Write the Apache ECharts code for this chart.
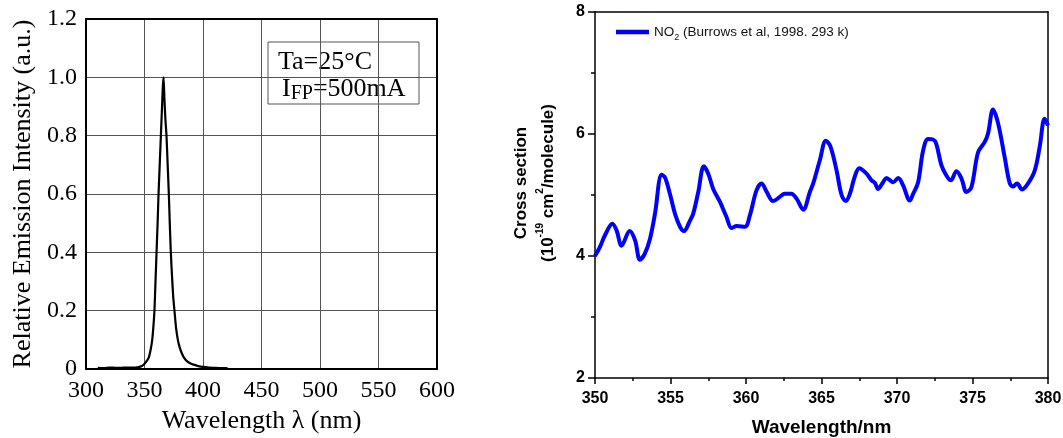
<!DOCTYPE html>
<html>
<head>
<meta charset="utf-8">
<script src="https://cdn.jsdelivr.net/npm/echarts@6/dist/echarts.min.js"></script>
<style>
html,body{margin:0;padding:0;background:#fff;}
#chart{width:1063px;height:438px;}
</style>
</head>
<body>
<div id="chart"></div>
<script>
// ---- Left panel: LED emission spectrum ----
const ledWavelength = [310,315,320,325,330,335,340,344,347,349.4,351.5,353.7,355.2,356.6,357.6,358.5,359.4,360.3,361.2,362,363,364,365,365.7,366.3,367,367.8,368.8,369.8,370.8,371.6,372.5,373.5,374.5,375.6,377,378.5,380,381.8,383.6,386,389,392,396,400,405,410,415,421];
const ledIntensity = [0.004,0.003,0.005,0.004,0.004,0.005,0.005,0.006,0.009,0.015,0.025,0.04,0.065,0.1,0.145,0.2,0.3,0.4,0.5,0.6,0.7,0.8,0.9,0.97,1.0,0.93,0.86,0.8,0.7,0.6,0.5,0.4,0.32,0.25,0.2,0.14,0.1,0.075,0.055,0.04,0.028,0.02,0.015,0.01,0.007,0.005,0.004,0.003,0.003];
const ledXTicks = [300,350,400,450,500,550,600];
const ledYTicks = ['0','0.2','0.4','0.6','0.8','1.0','1.2'];

// ---- Right panel: NO2 cross section ----
const no2Wavelength = [350,350.33,350.66,351.15,351.43,351.76,352.3,352.65,352.98,353.3,353.64,353.97,354.41,354.63,354.96,355.3,355.63,355.89,356.29,356.5,356.84,357.21,357.5,357.83,358.27,358.71,359.04,359.38,359.93,360.26,360.7,361.03,361.37,361.8,362.24,362.57,363.0,363.35,363.79,364.23,364.45,364.89,365.29,365.6,366.0,366.33,366.61,366.88,367.2,367.5,367.98,368.31,368.53,368.75,369.08,369.3,369.75,370.08,370.4,370.85,371.07,371.4,371.73,372.06,372.39,372.6,372.94,373.27,373.56,373.94,374.27,374.6,374.93,375.37,375.81,376.03,376.36,376.7,377.13,377.47,377.69,377.95,378.28,378.68,379.12,379.45,379.78,380.0];
const no2CrossSection = [4.0,4.15,4.34,4.53,4.42,4.17,4.41,4.26,3.94,4.04,4.28,4.69,5.33,5.29,5.02,4.69,4.48,4.41,4.58,4.69,5.05,5.47,5.35,5.10,4.89,4.64,4.46,4.49,4.48,4.67,5.08,5.19,5.05,4.90,4.97,5.02,5.02,4.94,4.76,5.05,5.19,5.57,5.89,5.79,5.40,5.0,4.90,5.02,5.30,5.44,5.35,5.24,5.20,5.10,5.21,5.28,5.21,5.28,5.16,4.91,5.02,5.21,5.73,5.92,5.91,5.84,5.49,5.32,5.24,5.39,5.27,5.05,5.13,5.70,5.87,6.01,6.40,6.17,5.62,5.19,5.14,5.19,5.09,5.19,5.40,5.79,6.25,6.14];
const no2XTicks = [350,355,360,365,370,375,380];
const no2YTicks = [2,4,6,8];

const serif = 'Liberation Serif';
const sans = 'Liberation Sans';

const chart = echarts.init(document.getElementById('chart'), null, {renderer: 'canvas'});

const frameAxis = (grid, pos, w) => ({
  gridIndex: grid, position: pos, type: 'value',
  axisLine: {show: true, onZero: false, lineStyle: {color: '#000', width: w}},
  axisTick: {show: false}, axisLabel: {show: false}, splitLine: {show: false}
});

const option = {
  animation: false,
  backgroundColor: '#fff',
  grid: [
    {left: 86, right: 626, top: 19, bottom: 69, outerBoundsMode: 'none', containLabel: false},
    {left: 595, right: 15, top: 12, bottom: 60, outerBoundsMode: 'none', containLabel: false}
  ],
  legend: {
    data: ['NO2'],
    left: 611, top: 20,
    icon: 'rect', itemWidth: 33, itemHeight: 4.5,
    formatter: () => '{a|NO}{s|2}{a| (Burrows et al, 1998. 293 k)}',
    textStyle: {
      padding: [0, 0, 0, 0],
      rich: {
        a: {fontFamily: sans, fontSize: 13.5, color: '#111', lineHeight: 20},
        s: {fontFamily: sans, fontSize: 9, color: '#111', lineHeight: 14, verticalAlign: 'bottom'}
      }
    }
  },
  xAxis: [
    {
      gridIndex: 0, type: 'value', min: ledXTicks[0], max: ledXTicks[ledXTicks.length - 1], interval: 50,
      axisLine: {onZero: false, lineStyle: {color: '#000', width: 2}},
      axisTick: {show: false},
      axisLabel: {fontFamily: serif, fontSize: 24, color: '#000', margin: 10},
      splitLine: {show: true, lineStyle: {color: '#555', width: 1}},
      name: 'Wavelength λ (nm)', nameLocation: 'middle', nameGap: 36,
      nameTextStyle: {fontFamily: serif, fontSize: 26, color: '#000'}
    },
    frameAxis(0, 'top', 2),
    {
      gridIndex: 1, type: 'value', min: no2XTicks[0], max: no2XTicks[no2XTicks.length - 1], interval: 5,
      axisLine: {onZero: false, lineStyle: {color: '#000', width: 1.5}},
      axisTick: {show: true, length: 6, lineStyle: {color: '#000', width: 1.5}},
      minorTick: {show: true, splitNumber: 2, length: 3, lineStyle: {color: '#000', width: 1.5}},
      axisLabel: {fontFamily: sans, fontWeight: 'bold', fontSize: 16, color: '#000', margin: 13},
      splitLine: {show: false},
      name: 'Wavelength/nm', nameLocation: 'middle', nameGap: 40,
      nameTextStyle: {fontFamily: sans, fontWeight: 'bold', fontSize: 19, color: '#000'}
    },
    frameAxis(1, 'top', 1.5)
  ],
  yAxis: [
    {
      gridIndex: 0, type: 'value', min: 0, max: 1.2, interval: 0.2,
      axisLine: {onZero: false, lineStyle: {color: '#000', width: 2}},
      axisTick: {show: false},
      axisLabel: {fontFamily: serif, fontSize: 24, color: '#000', margin: 9,
        formatter: (v) => ledYTicks[Math.round(v / 0.2)]},
      splitLine: {show: true, lineStyle: {color: '#555', width: 1}},
      name: 'Relative Emission Intensity (a.u.)', nameLocation: 'middle', nameGap: 50,
      nameTextStyle: {fontFamily: serif, fontSize: 26, color: '#000'}
    },
    frameAxis(0, 'right', 2),
    {
      gridIndex: 1, type: 'value', min: no2YTicks[0], max: no2YTicks[no2YTicks.length - 1], interval: 2,
      axisLine: {onZero: false, lineStyle: {color: '#000', width: 1.5}},
      axisTick: {show: true, length: 7, lineStyle: {color: '#000', width: 1.5}},
      minorTick: {show: true, splitNumber: 2, length: 4, lineStyle: {color: '#000', width: 1.5}},
      axisLabel: {fontFamily: sans, fontWeight: 'bold', fontSize: 16, color: '#000', margin: 10},
      splitLine: {show: false},
      name: '{t|Cross section}\n{t|(10}{p|-19}{t| cm}{p|2}{t|/molecule)}',
      nameLocation: 'middle', nameGap: 33,
      nameTextStyle: {
        padding: [0, 0, 0, 24],
        rich: {
          t: {fontFamily: sans, fontWeight: 'bold', fontSize: 17, color: '#000', lineHeight: 27},
          p: {fontFamily: sans, fontWeight: 'bold', fontSize: 10, color: '#000', lineHeight: 14, verticalAlign: 'top'}
        }
      }
    },
    frameAxis(1, 'right', 1.5)
  ],
  series: [
    {
      name: 'LED', type: 'line', xAxisIndex: 0, yAxisIndex: 0,
      data: ledWavelength.map((w, i) => [w, ledIntensity[i]]),
      showSymbol: false, smooth: 0.2,
      lineStyle: {color: '#000', width: 2.2}, z: 5
    },
    {
      name: 'NO2', type: 'line', xAxisIndex: 2, yAxisIndex: 2,
      data: no2Wavelength.map((w, i) => [w, no2CrossSection[i]]),
      showSymbol: false, smooth: 0.35,
      color: '#0000ff',
      lineStyle: {color: '#0000ff', width: 4}
    }
  ],
  graphic: [
    {
      type: 'group', z: 100,
      children: [
        {type: 'rect', shape: {x: 268, y: 42, width: 151, height: 62},
          style: {fill: '#fff', stroke: '#555', lineWidth: 1}},
        {type: 'text', x: 278, y: 62,
          style: {text: 'Ta=25°C', font: '26px "Liberation Serif"', fill: '#000', verticalAlign: 'middle'}},
        {type: 'text', x: 282, y: 89,
          style: {
            text: '{b|I}{s|FP}{b|=500mA}', verticalAlign: 'middle',
            rich: {
              b: {fontFamily: serif, fontSize: 26, color: '#000', lineHeight: 30},
              s: {fontFamily: serif, fontSize: 20, color: '#000', lineHeight: 28, verticalAlign: 'bottom'}
            }
          }}
      ]
    }
  ]
};
chart.setOption(option);
</script>
</body>
</html>
